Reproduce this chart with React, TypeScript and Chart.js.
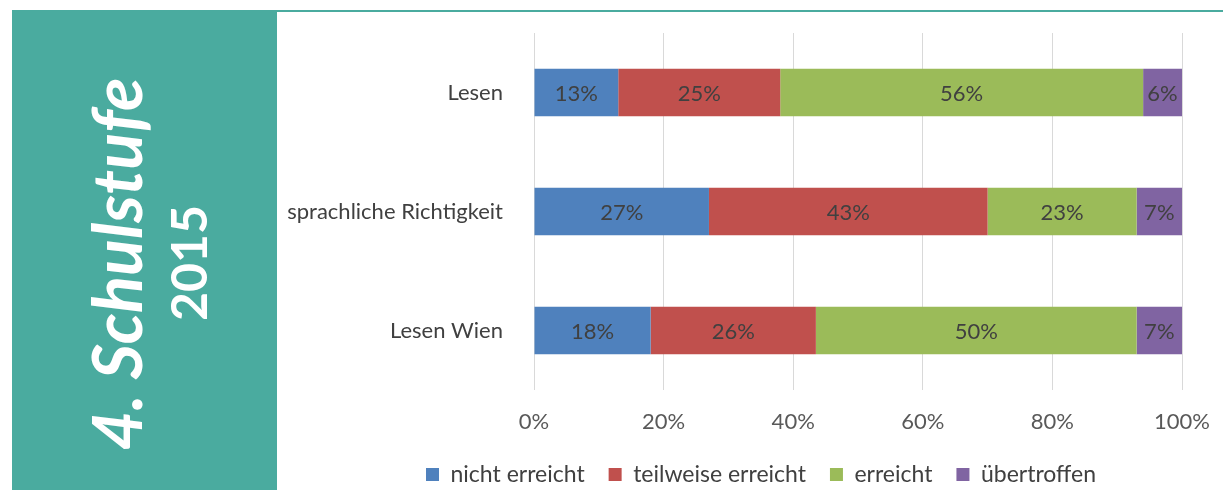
import React, { useEffect, useRef } from "react";
import { Chart, registerables } from "chart.js";

Chart.register(...registerables);

const categories = ["Lesen", "sprachliche Richtigkeit", "Lesen Wien"];
const seriesNames = ["nicht erreicht", "teilweise erreicht", "erreicht", "übertroffen"];
const nichtErreicht = [13, 27, 18];
const teilweiseErreicht = [25, 43, 25.5];
const erreicht = [56, 23, 49.5];
const uebertroffen = [6, 7, 7];
const seriesColors = ["#4f81bd", "#c0504d", "#9bbb59", "#8064a2"];
const xTickStep = 20;
const xMax = 100;

const FONT = "Lato, 'Open Sans', sans-serif";
const CANVAS_LEFT = 277;
const LEGEND_CENTER = 761;

const dataLabelPlugin = {
  id: "dataLabels",
  afterDatasetsDraw(chart: any) {
    const ctx = chart.ctx;
    ctx.save();
    ctx.font = `22px ${FONT}`;
    ctx.fillStyle = "#404040";
    ctx.textAlign = "center";
    ctx.textBaseline = "middle";
    chart.data.datasets.forEach((ds: any, di: number) => {
      const meta = chart.getDatasetMeta(di);
      meta.data.forEach((el: any, i: number) => {
        const v = ds.data[i];
        const cx = (el.x + el.base) / 2;
        ctx.fillText(Math.round(v) + "%", cx, el.y + 1);
      });
    });
    ctx.restore();
  },
};

const legendShiftPlugin = {
  id: "legendShift",
  afterLayout(chart: any) {
    const lg = chart.legend;
    if (!lg) return;
    const delta = LEGEND_CENTER - CANVAS_LEFT - (lg.left + lg.right) / 2;
    lg.left += delta;
    lg.right += delta;
  },
};

export default function App() {
  const ref = useRef<HTMLCanvasElement | null>(null);

  useEffect(() => {
    if (!ref.current) return;
    const all = [nichtErreicht, teilweiseErreicht, erreicht, uebertroffen];
    const chart = new Chart(ref.current, {
      type: "bar",
      data: {
        labels: categories,
        datasets: all.map((d, i) => ({
          label: seriesNames[i],
          data: d,
          backgroundColor: seriesColors[i],
          borderWidth: 0,
          categoryPercentage: 1,
          barPercentage: 0.4,
        })),
      },
      options: {
        indexAxis: "y",
        animation: false,
        responsive: true,
        maintainAspectRatio: false,
        layout: { padding: { top: 21, right: 41, left: 0, bottom: 5 } },
        plugins: {
          tooltip: { enabled: false },
          legend: {
            position: "bottom",
            maxHeight: 46,
            labels: {
              font: { family: FONT, size: 23 },
              color: "#404040",
              boxWidth: 13,
              boxHeight: 13,
              padding: 24,
            },
          },
        },
        scales: {
          x: {
            stacked: true,
            min: 0,
            max: xMax,
            ticks: {
              stepSize: xTickStep,
              callback: (v: any) => v + "%",
              font: { family: FONT, size: 22 },
              color: "#595959",
              padding: 19,
            },
            grid: { color: "#d9d9d9", drawTicks: false },
            border: { display: false },
            afterFit: (s: any) => {
              s.height = 49;
              s.paddingLeft = 0;
              s.paddingRight = 0;
            },
          },
          y: {
            stacked: true,
            ticks: {
              font: { family: FONT, size: 22 },
              color: "#404040",
              padding: 23,
            },
            grid: { display: false },
            border: { display: false },
            afterFit: (s: any) => {
              s.width = 257;
              s.paddingTop = 0;
              s.paddingBottom = 0;
            },
          },
        },
      },
      plugins: [dataLabelPlugin, legendShiftPlugin],
    });
    return () => chart.destroy();
  }, []);

  return (
    <div style={{ position: "fixed", left: 0, top: 0, width: 1223, height: 490, background: "#fff", overflow: "hidden" }}>
      <div style={{ position: "absolute", left: 12, top: 10, width: 265, height: 480, background: "#4aab9f" }} />
      <div style={{ position: "absolute", left: 277, top: 10, width: 946, height: 2, background: "#4aab9f" }} />
      <div
        style={{
          position: "absolute",
          left: 116,
          top: 264,
          transform: "translate(-50%, -50%) rotate(-90deg)",
          whiteSpace: "nowrap",
          color: "#fff",
          fontFamily: FONT,
          fontWeight: 700,
          fontStyle: "italic",
          fontSize: 68.5,
          lineHeight: 1,
        }}
      >
        4. Schulstufe
      </div>
      <div
        style={{
          position: "absolute",
          left: 188,
          top: 263,
          transform: "translate(-50%, -50%) rotate(-90deg)",
          whiteSpace: "nowrap",
          color: "#fff",
          fontFamily: FONT,
          fontWeight: 700,
          fontSize: 50,
          lineHeight: 1,
        }}
      >
        2015
      </div>
      <div style={{ position: "absolute", left: CANVAS_LEFT, top: 12, width: 946, height: 478 }}>
        <canvas ref={ref} />
      </div>
    </div>
  );
}
